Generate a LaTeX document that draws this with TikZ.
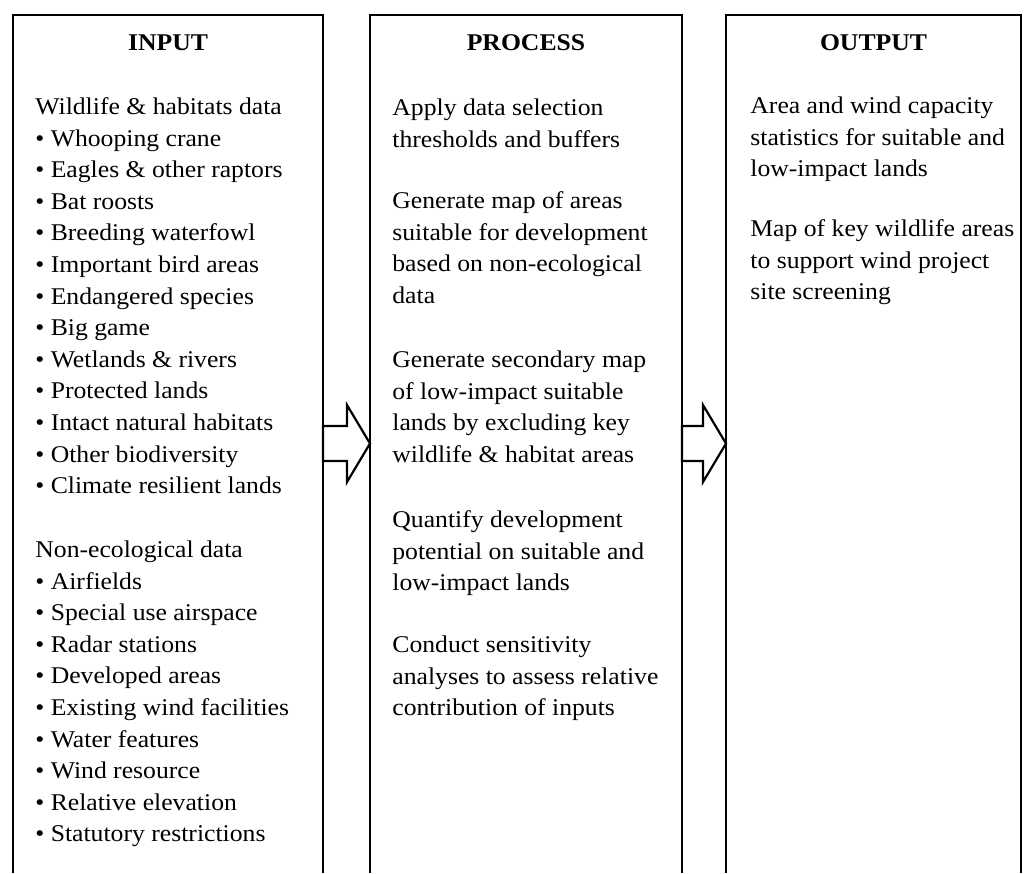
\documentclass[tikz,border=0pt]{standalone}
\usepackage{fontspec}
\setmainfont{Liberation Serif}[FakeStretch=1.07]
\newcommand\colfont{\fontsize{12}{15.8}\selectfont}
\tikzset{
	frame/.style={line width=1.4pt},
	fatarrow/.style={line width=1.1pt, fill=white, line join=miter},
	head/.style={font=\colfont\bfseries, anchor=base},
	para/.style={anchor=north west, align=left},
}
\begin{document}
\begin{tikzpicture}[x=0.5pt, y=-0.5pt, every node/.style={inner sep=0pt, font=\colfont}]
	\useasboundingbox (0,0) rectangle (1028,873);
	% block arrow, #1 = shaft length
	\def\fatarrow#1{
		-- ++(0,-17.5) -- ++(#1,0) -- ++(0,-21) -- ++(23,38.5) -- ++(-23,38.5) -- ++(0,-21) -- ++(-#1,0) -- cycle
	}
	% the three columns, open at the bottom
	\foreach \n/\l/\r in {in/13/323, proc/370/682, out/726/1021}
	{
		\draw[frame] (\l,873) -- (\l,15) -- (\r,15) -- (\r,873);
		\coordinate (\n-w) at (\l,443.5);
		\coordinate (\n-e) at (\r,443.5);
	}
	\draw[fatarrow] (in-e) \fatarrow{24};
	\draw[fatarrow] (proc-e) \fatarrow{21};
	
	\node[head] (inhead) at (168,50) {INPUT};
	\node[para] (wild) at (35,92) {\strut Wildlife \& habitats data\\
		\textbullet\ Whooping crane\\
		\textbullet\ Eagles \& other raptors\\
		\textbullet\ Bat roosts\\
		\textbullet\ Breeding waterfowl\\
		\textbullet\ Important bird areas\\
		\textbullet\ Endangered species\\
		\textbullet\ Big game\\
		\textbullet\ Wetlands \& rivers\\
		\textbullet\ Protected lands\\
		\textbullet\ Intact natural habitats\\
		\textbullet\ Other biodiversity\\
		\textbullet\ Climate resilient lands};
	\node[para] (nonecol) at (35,535) {\strut Non-ecological data\\
		\textbullet\ Airfields\\
		\textbullet\ Special use airspace\\
		\textbullet\ Radar stations\\
		\textbullet\ Developed areas\\
		\textbullet\ Existing wind facilities\\
		\textbullet\ Water features\\
		\textbullet\ Wind resource\\
		\textbullet\ Relative elevation\\
		\textbullet\ Statutory restrictions};
	
	\node[head] (prochead) at (526,50) {PROCESS};
	\node[para] (apply) at (392,93) {\strut Apply data selection\\ thresholds and buffers};
	\node[para] (genmap) at (392,186) {\strut Generate map of areas\\ suitable for development\\ based on non-ecological\\ data};
	\node[para] (secmap) at (392,345) {\strut Generate secondary map\\ of low-impact suitable\\ lands by excluding key\\ wildlife \& habitat areas};
	\node[para] (quant) at (392,505) {\strut Quantify development\\ potential on suitable and\\ low-impact lands};
	\node[para] (sens) at (392,630) {\strut Conduct sensitivity\\ analyses to assess relative\\ contribution of inputs};
	
	\node[head] (outhead) at (873.5,50) {OUTPUT};
	\node[para] (stats) at (750,91) {\strut Area and wind capacity\\ statistics for suitable and\\ low-impact lands};
	\node[para] (keymap) at (750,214) {\strut Map of key wildlife areas\\ to support wind project\\ site screening};
\end{tikzpicture}
\end{document}
